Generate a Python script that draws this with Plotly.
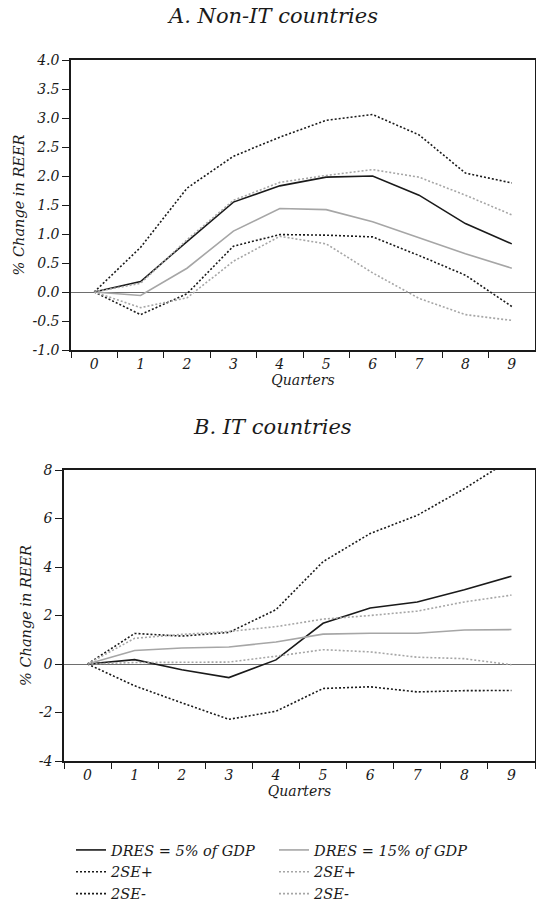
import plotly.graph_objects as go

quarters = ["0", "1", "2", "3", "4", "5", "6", "7", "8", "9"]

# Panel A: Non-IT countries
a_dres5 = [0, 0.18, 0.87, 1.55, 1.83, 1.98, 2.00, 1.67, 1.18, 0.83]
a_dres5_up = [0, 0.77, 1.79, 2.34, 2.67, 2.96, 3.06, 2.71, 2.05, 1.88]
a_dres5_lo = [0, -0.39, -0.03, 0.79, 0.99, 0.98, 0.95, 0.63, 0.29, -0.25]
a_dres15 = [0, -0.06, 0.41, 1.05, 1.44, 1.42, 1.21, 0.93, 0.66, 0.41]
a_dres15_up = [0, 0.15, 0.90, 1.58, 1.89, 2.01, 2.11, 1.98, 1.67, 1.33]
a_dres15_lo = [0, -0.27, -0.10, 0.53, 0.96, 0.83, 0.33, -0.11, -0.39, -0.49]

# Panel B: IT countries
b_dres5 = [0, 0.18, -0.24, -0.56, 0.17, 1.68, 2.31, 2.56, 3.06, 3.62]
b_dres5_up = [0, 1.26, 1.15, 1.30, 2.24, 4.22, 5.38, 6.13, 7.23, 8.45]
b_dres5_lo = [0, -0.90, -1.60, -2.28, -1.95, -1.01, -0.94, -1.15, -1.10, -1.09]
b_dres15 = [0, 0.56, 0.66, 0.70, 0.91, 1.23, 1.27, 1.27, 1.40, 1.42]
b_dres15_up = [0, 1.06, 1.22, 1.34, 1.54, 1.85, 2.00, 2.18, 2.56, 2.84]
b_dres15_lo = [0, 0.06, 0.07, 0.08, 0.32, 0.59, 0.50, 0.28, 0.22, -0.03]

a_yticks = [-1.0, -0.5, 0.0, 0.5, 1.0, 1.5, 2.0, 2.5, 3.0, 3.5, 4.0]
b_yticks = [-4, -2, 0, 2, 4, 6, 8]

FONT = "DejaVu Serif"
BLACK = "#1a1a1a"
GREY = "#a6a6a6"
DOT = "2px,2px"
W, H = 536, 902

fig = go.Figure()

def add_panel(xa, ya, vals, show):
    d5, d5u, d5l, d15, d15u, d15l = vals
    specs = [
        (d5, "DRES = 5% of GDP", BLACK, "solid", "legend"),
        (d15, "DRES = 15% of GDP", GREY, "solid", "legend2"),
        (d5u, "2SE+", BLACK, DOT, "legend"),
        (d15u, "2SE+", GREY, DOT, "legend2"),
        (d5l, "2SE-", BLACK, DOT, "legend"),
        (d15l, "2SE-", GREY, DOT, "legend2"),
    ]
    for y, name, col, dash, lg in specs:
        fig.add_trace(go.Scatter(
            x=quarters, y=y, name=name, mode="lines",
            line=dict(color=col, width=1.6, dash=dash),
            xaxis=xa, yaxis=ya, showlegend=show, legend=lg,
        ))

add_panel("x", "y", [a_dres5, a_dres5_up, a_dres5_lo, a_dres15, a_dres15_up, a_dres15_lo], True)
add_panel("x2", "y2", [b_dres5, b_dres5_up, b_dres5_lo, b_dres15, b_dres15_up, b_dres15_lo], False)

def px(v):
    return v / W

def py(v):
    return 1 - v / H

xcommon = dict(
    type="category", range=[-0.5, 9.5], tickson="boundaries",
    ticks="outside", ticklen=6, tickwidth=1.3, tickcolor=BLACK,
    showline=True, linecolor=BLACK, linewidth=1.5, mirror=True,
    showgrid=False, zeroline=False, automargin=False,
    tickfont=dict(family=FONT, size=14, color=BLACK, style="italic"),
    title=dict(text="Quarters", standoff=0,
               font=dict(family=FONT, size=14, color=BLACK, style="italic")),
)
ycommon = dict(
    ticks="outside", ticklen=7, tickwidth=1.3, tickcolor=BLACK,
    showline=True, linecolor=BLACK, linewidth=1.5, mirror=True,
    showgrid=False, zeroline=True, zerolinecolor="#6e6e6e", zerolinewidth=1.2,
    automargin=False,
    tickfont=dict(family=FONT, size=14, color=BLACK, style="italic"),
    title=dict(text="% Change in REER", standoff=4,
               font=dict(family=FONT, size=14.5, color=BLACK, style="italic")),
)

legend_font = dict(family=FONT, size=14.5, color=BLACK, style="italic")

fig.update_layout(
    width=W, height=H,
    margin=dict(l=0, r=0, t=0, b=0, autoexpand=False),
    paper_bgcolor="white", plot_bgcolor="white",
    font=dict(family=FONT, color=BLACK),
    xaxis=dict(domain=[px(71), px(535)], anchor="y", **xcommon),
    yaxis=dict(domain=[py(350), py(60)], anchor="x", range=[-1.0, 4.0],
               tickvals=a_yticks, ticktext=[f"{v:.1f}" for v in a_yticks], **ycommon),
    xaxis2=dict(domain=[px(64), px(535)], anchor="y2", **xcommon),
    yaxis2=dict(domain=[py(761), py(470)], anchor="x2", range=[-4, 8],
                tickvals=b_yticks, ticktext=[str(v) for v in b_yticks], **ycommon),
    legend=dict(x=px(71), y=py(834), xanchor="left", yanchor="top",
                orientation="v", tracegroupgap=0, bgcolor="rgba(0,0,0,0)",
                font=legend_font),
    legend2=dict(x=px(274), y=py(834), xanchor="left", yanchor="top",
                 orientation="v", tracegroupgap=0, bgcolor="rgba(0,0,0,0)",
                 font=legend_font),
    annotations=[
        dict(text="A. Non-IT countries", x=px(272), y=py(16), xref="paper", yref="paper",
             showarrow=False, xanchor="center", yanchor="middle",
             font=dict(family=FONT, size=21, color=BLACK, style="italic")),
        dict(text="B. IT countries", x=px(272), y=py(427), xref="paper", yref="paper",
             showarrow=False, xanchor="center", yanchor="middle",
             font=dict(family=FONT, size=21, color=BLACK, style="italic")),
    ],
)

fig.write_html("out.html", config={"displayModeBar": False},
               post_script="document.body.style.margin='0';")
